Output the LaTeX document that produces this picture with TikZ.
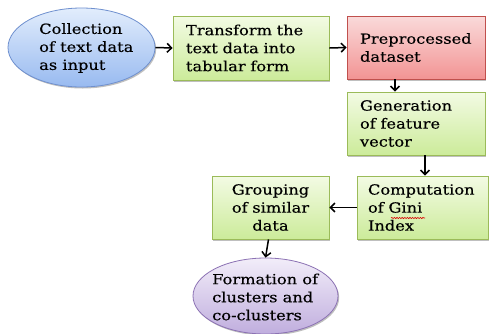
\documentclass[tikz,border=0pt]{standalone}
\usepackage{fontspec}
\setmainfont{DejaVu Serif}[FakeStretch=1.16,FakeBold=0.3]
\usetikzlibrary{arrows.meta,shapes.geometric,shadows,decorations.pathmorphing}
\definecolor{gtop}{HTML}{F3FBE4}
\definecolor{gbot}{HTML}{CCEB9A}
\definecolor{gline}{HTML}{9BBB59}
\definecolor{rtop}{HTML}{FADADA}
\definecolor{rbot}{HTML}{F29494}
\definecolor{rline}{HTML}{C0504D}
\definecolor{btop}{HTML}{E2EDFC}
\definecolor{bbot}{HTML}{98BAF0}
\definecolor{bline}{HTML}{6F90CF}
\definecolor{ptop}{HTML}{F2EDF9}
\definecolor{pbot}{HTML}{C0AEDE}
\definecolor{pline}{HTML}{8C72B4}
\begin{document}
\begin{tikzpicture}[x=1pt,y=-1pt,
  txt/.style={font=\fontsize{14}{18}\selectfont, align=left, inner sep=0pt},
  shad/.style={drop shadow={shadow xshift=1.2pt,shadow yshift=-1.5pt,opacity=0.25,fill=black}},
  gbox/.style={rectangle, draw=gline, line width=0.8pt, top color=gtop, bottom color=gbot, shad,
    font=\fontsize{14}{18}\selectfont, align=left, inner ysep=0pt},
  rbox/.style={gbox, draw=rline, top color=rtop, bottom color=rbot},
  bell/.style={ellipse, draw=bline, line width=0.8pt, top color=btop, bottom color=bbot, shad, inner sep=0pt},
  pell/.style={ellipse, draw=pline, line width=0.8pt, top color=ptop, bottom color=pbot, shad, inner sep=0pt},
  arr/.style={draw=black, line width=1.5pt, -{Straight Barb[length=4.5pt,width=9pt]}}
]
\useasboundingbox (0,0) rectangle (489,333);
\fill[white] (0,0) rectangle (489,333);

% shapes
\node[bell, minimum width=147pt, minimum height=79pt] (coll) at (81.5,47.5) {};
\node[txt, anchor=west] (colltext) at (39,48) {Collection\\of text data\\as input};

\node[gbox, minimum width=156pt, minimum height=64pt, text width=130pt, inner xsep=13pt] (trans) at (251,48)
  {Transform the\\text data into\\tabular form};
\node[rbox, minimum width=138pt, minimum height=63pt, text width=112pt, inner xsep=13pt] (pre) at (416,47.5)
  {Preprocessed\\dataset};
\node[gbox, minimum width=138pt, minimum height=63pt, text width=112pt, inner xsep=13pt] (gen) at (416,123.5)
  {Generation\\of feature\\vector};
\node[gbox, minimum width=131pt, minimum height=63pt, text width=109pt, inner xsep=11pt] (comp) at (422.5,207.5)
  {Computation\\of Gini\\Index};
\node[gbox, minimum width=117pt, minimum height=63pt, text width=101pt, inner xsep=8pt, align=center] (grp) at (270.5,207.5)
  {Grouping\\of similar\\data};
\node[pell, minimum width=145pt, minimum height=76pt] (form) at (265.5,296) {};
\node[txt, anchor=west] (formtext) at (212,297) {Formation of\\clusters and\\co-clusters};

% spelling underline under "Gini"
\draw[red!85!black, line width=0.6pt, decorate, decoration={snake, amplitude=0.6pt, segment length=2.6pt}]
  (391,218) -- (425,218);

% connectors
\draw[arr] (coll.east) -- (trans.west);
\draw[arr] (trans.east) -- (pre.west);
\draw[arr] ([xshift=-21pt]pre.south) -- ([xshift=-21pt]gen.north);
\draw[arr] ([xshift=9pt]gen.south) -- ([xshift=2.5pt]comp.north);
\draw[arr] (comp.west) -- (grp.east);
\draw[arr] ([xshift=-2pt]grp.south) -- (form.north);
\end{tikzpicture}
\end{document}
